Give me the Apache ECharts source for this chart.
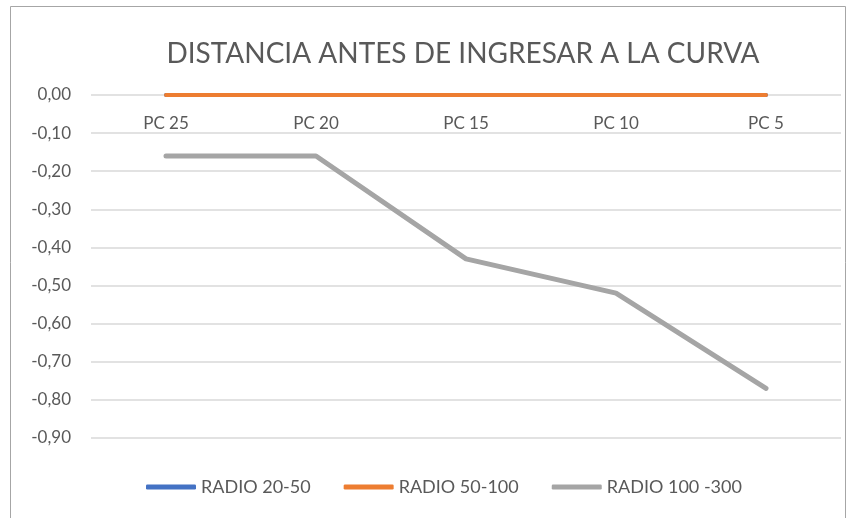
<!DOCTYPE html>
<html>
<head>
<meta charset="utf-8">
<script src="https://cdn.jsdelivr.net/npm/echarts@6/dist/echarts.min.js"></script>
<style>
  html, body { margin: 0; padding: 0; background: #fff; }
  #chart { width: 856px; height: 518px; }
</style>
</head>
<body>
<div id="chart"></div>
<script>
const categories = ['PC 25', 'PC 20', 'PC 15', 'PC 10', 'PC 5']
const radio20_50 = [0, 0, 0, 0, 0]
const radio50_100 = [0, 0, 0, 0, 0]
const radio100_300 = [-0.16, -0.16, -0.43, -0.52, -0.77]

const font = 'Lato, "Open Sans", sans-serif'
const chart = echarts.init(document.getElementById('chart'))

chart.setOption({
  animation: false,
  textStyle: { fontFamily: font },
  graphic: [{
    type: 'rect',
    shape: { x: 10.5, y: 6.5, width: 835, height: 540 },
    style: { fill: 'none', stroke: '#a6a6a6', lineWidth: 1 },
    silent: true
  }],
  title: {
    text: 'DISTANCIA ANTES DE INGRESAR A LA CURVA',
    left: 458,
    top: 35,
    textAlign: 'center',
    textStyle: { fontFamily: font, fontSize: 28, fontWeight: 'normal', color: '#595959' }
  },
  legend: {
    bottom: 17,
    left: 141,
    itemWidth: 50,
    itemHeight: 5,
    itemGap: 33,
    icon: 'roundRect',
    textStyle: { fontFamily: font, fontSize: 18, color: '#595959' },
    data: ['RADIO 20-50', 'RADIO 50-100', 'RADIO 100 -300']
  },
  grid: { left: 91, right: 15, top: 95, bottom: 80 },
  xAxis: {
    type: 'category',
    position: 'top',
    data: categories,
    boundaryGap: true,
    axisLine: { show: false },
    axisTick: { show: false },
    axisLabel: { inside: true, margin: 20, fontSize: 17, color: '#595959', fontFamily: font }
  },
  yAxis: {
    type: 'value',
    min: -0.9,
    max: 0,
    interval: 0.1,
    axisLine: { show: false },
    axisTick: { show: false },
    axisLabel: {
      margin: 20,
      fontSize: 17,
      color: '#595959',
      fontFamily: font,
      formatter: v => v.toFixed(2).replace('.', ',')
    },
    splitLine: { lineStyle: { color: '#d9d9d9', width: 1.5 } }
  },
  series: [
    {
      name: 'RADIO 20-50', type: 'line', data: radio20_50,
      symbol: 'none', color: '#4472C4',
      lineStyle: { width: 4, cap: 'round' }
    },
    {
      name: 'RADIO 50-100', type: 'line', data: radio50_100,
      symbol: 'none', color: '#ED7D31',
      lineStyle: { width: 4, cap: 'round' }
    },
    {
      name: 'RADIO 100 -300', type: 'line', data: radio100_300,
      symbol: 'none', color: '#A5A5A5',
      lineStyle: { width: 5, cap: 'round', join: 'round' }
    }
  ]
})
</script>
</body>
</html>
